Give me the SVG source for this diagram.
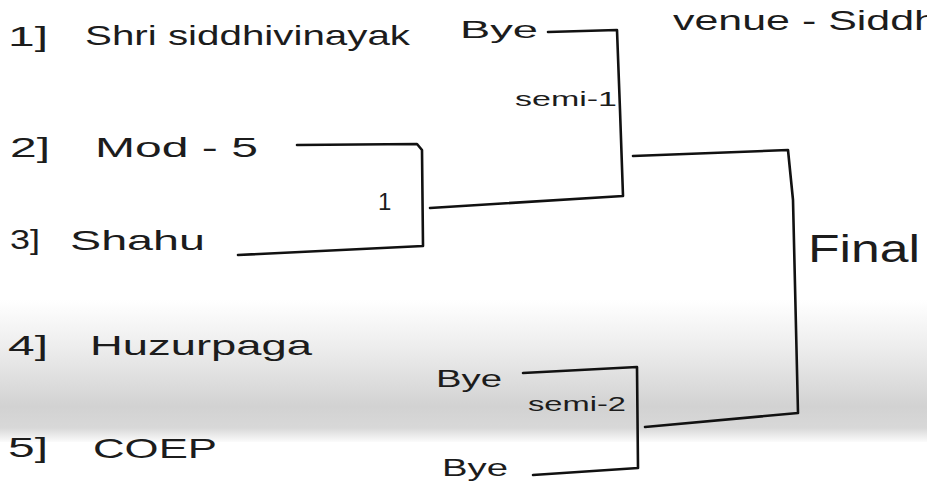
<svg xmlns="http://www.w3.org/2000/svg" width="927" height="486" viewBox="0 0 927 486">
<defs>
<linearGradient id="band" x1="0" y1="0" x2="0" y2="1">
<stop offset="0" stop-color="#ffffff"/>
<stop offset="0.35" stop-color="#ececec"/>
<stop offset="0.75" stop-color="#d2d2d2"/>
<stop offset="0.9" stop-color="#d8d8d8"/>
<stop offset="1" stop-color="#fbfbfb"/>
</linearGradient>
</defs>
<style>
text{font-family:"Liberation Sans","DejaVu Sans",sans-serif;fill:#1c1c1c;}
.t{font-size:28px;}
.b{font-size:24px;}
.s{font-size:21px;}
.c{fill:none;stroke:#111;stroke-width:2.6;stroke-linejoin:round;stroke-linecap:round;}
</style>
<rect x="0" y="0" width="927" height="486" fill="#ffffff"/>
<rect x="0" y="300" width="927" height="142" fill="url(#band)"/>

<g id="connectors">
<polyline class="c" points="548,32 617,30 620,110 623,196 430,208"/>
<polyline class="c" points="297,145 417,144 422,150 423,246 238,255"/>
<polyline class="c" points="633,156 788,150 793,200 798,413 645,427"/>
<polyline class="c" points="523,373 637,367 638,468 533,475"/>
</g>

<g id="team1">
<text class="t" x="8" y="46" textLength="40" lengthAdjust="spacingAndGlyphs">1]</text>
<text class="t" x="85" y="45" textLength="325" lengthAdjust="spacingAndGlyphs">Shri siddhivinayak</text>
</g>
<g id="bye1"><text class="b" x="460" y="38" textLength="78" lengthAdjust="spacingAndGlyphs">Bye</text></g>
<g id="venue"><text class="t" x="673" y="30" textLength="265" lengthAdjust="spacingAndGlyphs">venue - Siddh</text></g>
<g id="semi1"><text class="s" x="515" y="106" textLength="102" lengthAdjust="spacingAndGlyphs">semi-1</text></g>
<g id="team2">
<text class="t" x="10" y="157" textLength="40" lengthAdjust="spacingAndGlyphs">2]</text>
<text class="t" x="95" y="157" textLength="163" lengthAdjust="spacingAndGlyphs">Mod - 5</text>
</g>
<g id="match1"><text class="b" x="378" y="210">1</text></g>
<g id="team3">
<text class="t" x="10" y="249" textLength="30" lengthAdjust="spacingAndGlyphs">3]</text>
<text class="t" x="70" y="250" textLength="135" lengthAdjust="spacingAndGlyphs">Shahu</text>
</g>
<g id="final"><text x="808" y="262" font-size="38" textLength="112" lengthAdjust="spacingAndGlyphs">Final</text></g>
<g id="team4">
<text class="t" x="8" y="355" textLength="40" lengthAdjust="spacingAndGlyphs">4]</text>
<text class="t" x="90" y="355" textLength="222" lengthAdjust="spacingAndGlyphs">Huzurpaga</text>
</g>
<g id="bye2"><text class="b" x="436" y="387" textLength="66" lengthAdjust="spacingAndGlyphs">Bye</text></g>
<g id="semi2"><text class="s" x="528" y="411" textLength="98" lengthAdjust="spacingAndGlyphs">semi-2</text></g>
<g id="team5">
<text class="t" x="8" y="457" textLength="40" lengthAdjust="spacingAndGlyphs">5]</text>
<text class="t" x="93" y="458" textLength="124" lengthAdjust="spacingAndGlyphs">COEP</text>
</g>
<g id="bye3"><text class="b" x="442" y="476" textLength="66" lengthAdjust="spacingAndGlyphs">Bye</text></g>
</svg>
